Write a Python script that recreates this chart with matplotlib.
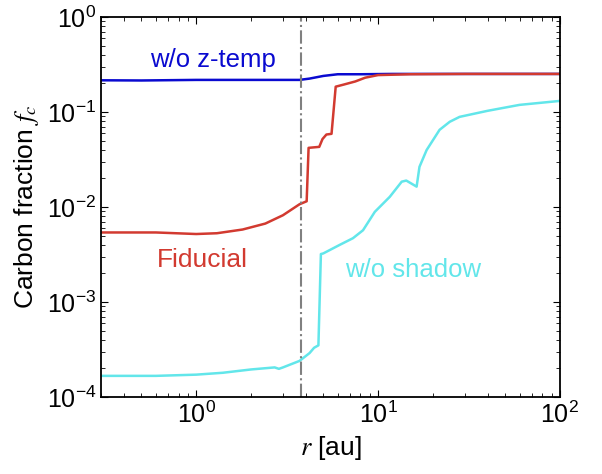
import numpy as np
import matplotlib
matplotlib.use('Agg')
import matplotlib.pyplot as plt

plt.rcParams['font.family'] = ['Liberation Sans', 'DejaVu Sans']
plt.rcParams['mathtext.fontset'] = 'stix'

# w/o z-temp
r_blue = [0.3, 0.5, 1.0, 2.0, 3.7, 4.2, 5.0, 6.0, 8.0, 12.0, 30.0, 100.0]
fc_blue = [0.216, 0.215, 0.218, 0.218, 0.218, 0.225, 0.24, 0.25, 0.25, 0.252, 0.252, 0.252]

# Fiducial
r_red = [0.3, 0.6, 1.0, 1.3, 1.8, 2.4, 3.0, 3.7, 4.05, 4.15, 4.75, 4.95, 5.2, 5.55, 5.85,
         6.5, 7.5, 8.5, 10.0, 15.0, 30.0, 100.0]
fc_red = [0.0054, 0.0054, 0.0052, 0.0053, 0.0058, 0.0067, 0.0082, 0.0107, 0.0115, 0.042,
          0.043, 0.052, 0.058, 0.059, 0.185, 0.195, 0.21, 0.23, 0.245, 0.25, 0.252, 0.252]

# w/o shadow
r_cyan = [0.3, 0.6, 1.0, 1.4, 2.0, 2.7, 2.85, 3.0, 3.7, 4.2, 4.45, 4.7, 4.85, 5.0, 6.16,
          7.28, 8.27, 9.6, 11.6, 13.5, 14.3, 16.3, 16.9, 18.5, 21.8, 24.8, 28.1, 40.0,
          60.0, 100.0]
fc_cyan = [1.67e-4, 1.67e-4, 1.72e-4, 1.8e-4, 1.95e-4, 2.05e-4, 1.98e-4, 2.05e-4, 2.4e-4,
           2.9e-4, 3.3e-4, 3.5e-4, 3.2e-3, 3.25e-3, 4.0e-3, 4.7e-3, 5.7e-3, 8.9e-3, 1.28e-2,
           1.85e-2, 1.9e-2, 1.64e-2, 2.65e-2, 3.98e-2, 6.5e-2, 7.9e-2, 8.9e-2,
           0.103, 0.119, 0.131]

r_snow = 3.75

fig = plt.figure(figsize=(6.02, 4.74), dpi=100)
ax = fig.add_axes([0.168, 0.1624, 0.762, 0.8016])

ax.plot(r_blue, fc_blue, color='#0a0ad0', lw=1.8)
ax.plot(r_red, fc_red, color='#d23a30', lw=1.8)
ax.plot(r_cyan, fc_cyan, color='#62e6ea', lw=1.8)
ax.axvline(r_snow, color='#808080', lw=1.5, linestyle='-.')

ax.set_xscale('log')
ax.set_yscale('log')
ax.set_xlim(0.3, 100)
ax.set_ylim(1e-4, 1)

ax.text(1.23, 0.35, 'w/o z-temp', color='#0a0ad0', fontsize=18.5, ha='center', va='center')
ax.text(1.08, 0.0028, 'Fiducial', color='#d23a30', fontsize=19, ha='center', va='center')
ax.text(15.5, 0.0022, 'w/o shadow', color='#62e6ea', fontsize=18.5, ha='center', va='center')

ax.set_xlabel('$r$ [au]', fontsize=19)
ax.set_ylabel('Carbon fraction $f_c$', fontsize=19)

ax.tick_params(which='both', direction='in', top=True, right=True, labelsize=18)
ax.tick_params(which='major', length=5)
ax.tick_params(which='minor', length=3)
for s in ax.spines.values():
    s.set_linewidth(1.3)

fig.savefig('out.png', dpi=100)
